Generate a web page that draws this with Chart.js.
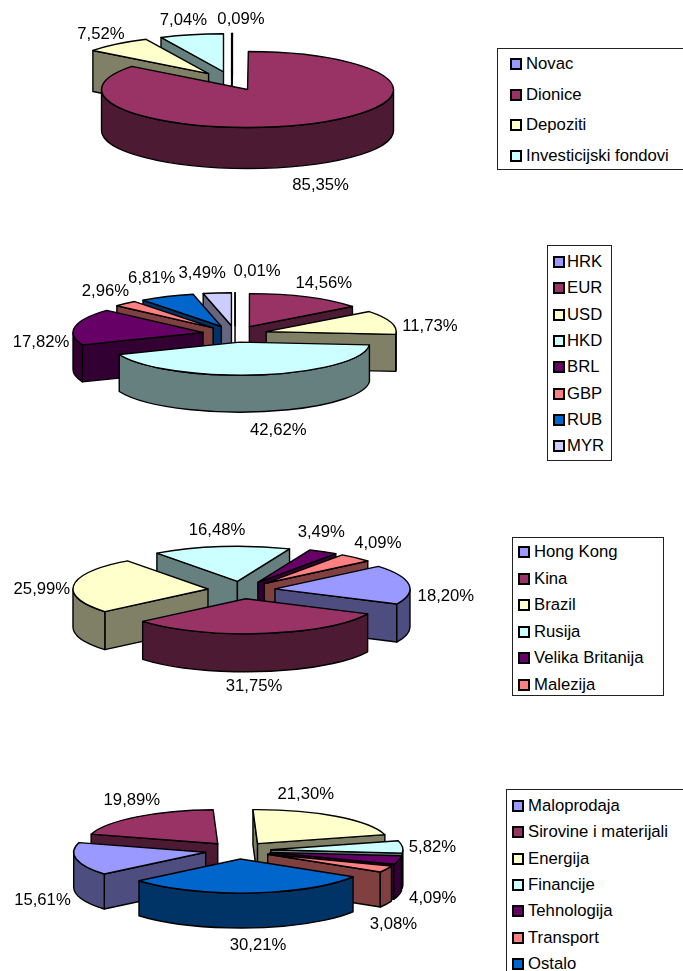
<!DOCTYPE html>
<html><head><meta charset="utf-8">
<script src="https://cdn.jsdelivr.net/npm/chart.js@4"></script>
<style>
html,body{margin:0;padding:0;background:#fff;overflow:hidden}
#page{position:relative;width:683px;height:971px;overflow:hidden;background:#fff;font-family:"Liberation Sans",Arial,sans-serif;color:#000}
canvas{position:absolute;left:0}
.legend{position:absolute;border:1px solid #222;box-sizing:border-box;background:#fff}
.entry{position:absolute;white-space:nowrap;font-size:16.7px;line-height:18px}
.swatch{position:absolute;width:8px;height:8px;border:2px solid #000;box-sizing:content-box}
</style></head><body><div id="page"></div>
<script>
// ---- data ----
const cats1 = ["Novac","Dionice","Depoziti","Investicijski fondovi"];
const vals1 = [0.09,85.35,7.52,7.04];
const cats2 = ["HRK","EUR","USD","HKD","BRL","GBP","RUB","MYR"];
const vals2 = [0.01,14.56,11.73,42.62,17.82,2.96,6.81,3.49];
const cats3 = ["Hong Kong","Kina","Brazil","Rusija","Velika Britanija","Malezija"];
const vals3 = [18.20,31.75,25.99,16.48,3.49,4.09];
const cats4 = ["Maloprodaja","Sirovine i materijali","Energija","Financije","Tehnologija","Transport","Ostalo"];
const vals4 = [15.61,19.89,21.30,5.82,4.09,3.08,30.21];
const topColors = ["#9999FF","#993366","#FFFFCC","#CCFFFF","#660066","#FF8080","#0066CC","#CCCCFF"];
const wallColors = ["#4D4D80","#4D1A33","#808066","#668080","#330033","#804040","#003366","#666680"];

// ---- layout ----
const charts = [
 {cats:cats1,vals:vals1,colorIdx:[0,1,2,3],top:0,h:215,cx:231.5,cy:81,R:146,f:.26,depth:41,rot:0,
  nudge:[[9,-14],[9,25],[-16,-10],[-8,-14]],
  legend:{x:497,y:48,w:200,h:122,first:64,step:30.7,sw:510,tx:526}},
 {cats:cats2,vals:vals2,colorIdx:[0,1,2,3,4,5,6,7],top:240,h:215,cx:235,cy:334,R:130,f:.254,depth:37,rot:0,
  nudge:[[22,-21],[17,-14],[39,4],[19,19],[-34,16],[-20,-12],[-15,-18],[-15,-20]],
  legend:{x:547,y:245,w:65,h:216,first:262,step:26.3,sw:553,tx:567}},
 {cats:cats3,vals:vals3,colorIdx:[0,1,2,3,4,5],top:510,h:210,cx:241.5,cy:590,R:135,f:.26,depth:38,rot:50,
  nudge:[[37,12],[-9,15],[-32,4],[-4,-16],[-2,-19],[22,-14]],
  legend:{x:512,y:537,w:152,h:159,first:552,step:26.5,sw:518,tx:534}},
 {cats:cats4,vals:vals4,colorIdx:[0,1,2,3,4,5,6],top:770,h:201,cx:238,cy:850.5,R:132,f:.258,depth:35,rot:230.2,
  nudge:[[-34,34],[-5,-16],[-30,-22],[30,0],[34,30],[7,40],[8,18]],
  legend:{x:506,y:789,w:200,h:220,first:806,step:26.3,sw:512,tx:528}}
];
const EXPLODE = 0.25, PAGE_W = 683, LINE = 1.4, FONT = '16.7px "Liberation Sans", Arial, sans-serif';
const fmt = v => v.toFixed(2).replace('.', ',') + '%';

const pie3d = {
  id:'pie3d',
  beforeDatasetsDraw(chart, args, o){
    const ctx = chart.ctx, f = o.f, depth = o.depth;
    const arcs = chart.getDatasetMeta(0).data.map((a,i)=>({a,i}));
    const midOf = a => (a.startAngle + a.endAngle)/2;
    arcs.sort((p,q)=>Math.sin(midOf(p.a)) - Math.sin(midOf(q.a)));
    ctx.lineJoin = 'round';
    ctx.lineWidth = LINE; ctx.strokeStyle = '#000';
    for (const {a,i} of arcs){
      const R = a.outerRadius, mid = midOf(a), e = R*EXPLODE;
      const x0 = a.x + e*Math.cos(mid), y0 = a.y + f*e*Math.sin(mid);
      const P = t => [x0 + R*Math.cos(t), y0 + f*R*Math.sin(t)];
      const wall = o.walls[i];
      ctx.fillStyle = wall;
      const quad = t => {
        const p = P(t);
        ctx.beginPath(); ctx.moveTo(x0,y0); ctx.lineTo(p[0],p[1]);
        ctx.lineTo(p[0],p[1]+depth); ctx.lineTo(x0,y0+depth); ctx.closePath();
        ctx.fill(); ctx.stroke();
      };
      if (Math.cos(a.startAngle) < 0) quad(a.startAngle);
      if (Math.cos(a.endAngle) > 0) quad(a.endAngle);
      for (let k=-1;k<=2;k++){
        const s = Math.max(a.startAngle, k*2*Math.PI), t = Math.min(a.endAngle, k*2*Math.PI+Math.PI);
        if (t<=s) continue;
        ctx.beginPath();
        ctx.ellipse(x0,y0,R,f*R,0,s,t,false);
        ctx.ellipse(x0,y0+depth,R,f*R,0,t,s,true);
        ctx.closePath(); ctx.fill(); ctx.stroke();
      }
      // top face: drawn by the library's arc element under a flattening transform
      ctx.save();
      ctx.translate(x0,y0); ctx.scale(1,f); ctx.translate(-a.x,-a.y);
      a.draw(ctx);
      ctx.restore();
      ctx.beginPath(); ctx.moveTo(x0,y0);
      ctx.ellipse(x0,y0,R,f*R,0,a.startAngle,a.endAngle,false);
      ctx.closePath(); ctx.stroke();
    }
    return false;
  },
  afterDraw(chart, args, o){
    const ctx = chart.ctx, f = o.f;
    ctx.save();
    ctx.font = FONT; ctx.fillStyle='#000'; ctx.textAlign='center'; ctx.textBaseline='middle';
    const vals = chart.data.datasets[0].data;
    chart.getDatasetMeta(0).data.forEach((a,i)=>{
      const mid=(a.startAngle+a.endAngle)/2, r=a.outerRadius*(1+EXPLODE), s=Math.sin(mid);
      const x=a.x+r*Math.cos(mid)+o.nudge[i][0];
      const y=a.y+f*r*s+(s>0?o.depth*s:0)+o.nudge[i][1];
      ctx.fillText(fmt(vals[i]),x,y);
    });
    ctx.restore();
  }
};

const page = document.getElementById('page');
charts.forEach(c=>{
  const cv = document.createElement('canvas');
  cv.style.top = c.top+'px'; cv.style.width = PAGE_W+'px'; cv.style.height = c.h+'px';
  cv.width = PAGE_W; cv.height = c.h;
  page.appendChild(cv);
  const localCy = c.cy - c.top;
  new Chart(cv,{
    type:'pie',
    data:{labels:c.cats,datasets:[{data:c.vals,
      backgroundColor:c.colorIdx.map(i=>topColors[i]),borderWidth:0}]},
    plugins:[pie3d],
    options:{responsive:false,animation:false,devicePixelRatio:1,rotation:c.rot,radius:c.R,
      events:[],
      layout:{padding:{left:0,top:0,right:PAGE_W-2*c.cx,bottom:Math.max(0,c.h-2*localCy)}},
      plugins:{legend:{display:false},tooltip:{enabled:false},
        pie3d:{f:c.f,depth:c.depth,nudge:c.nudge,walls:c.colorIdx.map(i=>wallColors[i])}}}
  });
  const L = c.legend, box = document.createElement('div');
  box.className='legend';
  Object.assign(box.style,{left:L.x+'px',top:L.y+'px',width:L.w+'px',height:L.h+'px'});
  page.appendChild(box);
  c.cats.forEach((name,i)=>{
    const yc = L.first + i*L.step;
    const sw=document.createElement('div'); sw.className='swatch';
    Object.assign(sw.style,{left:(L.sw-L.x-1)+'px',top:(yc-L.y-1-6)+'px',background:topColors[c.colorIdx[i]]});
    box.appendChild(sw);
    const t=document.createElement('div'); t.className='entry'; t.textContent=name;
    Object.assign(t.style,{left:(L.tx-L.x-1)+'px',top:(yc-L.y-1-9)+'px'});
    box.appendChild(t);
  });
});
</script></body></html>
